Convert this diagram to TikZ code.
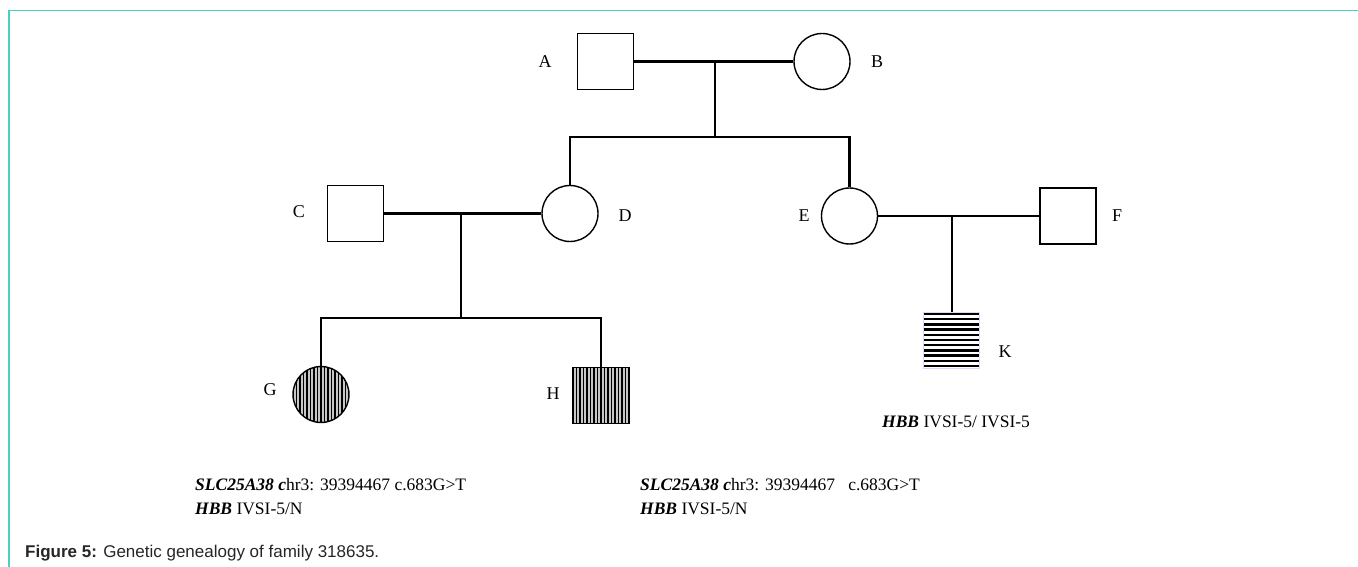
\documentclass[tikz,border=0pt]{standalone}
\usepackage{fontspec}
\setmainfont{Liberation Serif}
\newfontfamily\capfont{Liberation Sans}
\definecolor{framecol}{RGB}{72,209,192}
\tikzset{
  male/.style={draw, rectangle, line width=1.4pt, minimum size=56pt, inner sep=0pt},
  female/.style={draw, circle, line width=1.4pt, minimum size=56pt, inner sep=0pt},
  link/.style={line width=2.6pt},
  tag/.style={font=\fontsize{18}{21}\selectfont},
  gtext/.style={anchor=base west, inner sep=0pt, font=\fontsize{17.5}{21}\selectfont},
  vhatch/.style={fill=black!22, path picture={
      \foreach \i in {-28,-24.5,...,28}
        \draw[black, line width=1.3pt] ([xshift=\i]path picture bounding box.north) -- ([xshift=\i]path picture bounding box.south);}},
  hhatch/.style={draw=blue!15, line width=0.5pt, path picture={
      \foreach \i in {-26,-20.8,...,27}
        \draw[black, line width=2.4pt] ([yshift=\i]path picture bounding box.west) -- ([yshift=\i]path picture bounding box.east);}}
}
\begin{document}
\begin{tikzpicture}[x=1pt, y=-1pt]
  \useasboundingbox (0,0) rectangle (1358,567);
  \draw[framecol, line width=1.6pt] (9,567) -- (9,10.5) -- (1358,10.5);

  % generation I
  \node[male] (A) at (605.5,61.5) {};
  \node[female] (B) at (822,61.5) {};
  \node[tag] (lA) at (545,62) {A};
  \node[tag] (lB) at (877,62) {B};

  % generation II
  \node[male] (C) at (355.5,213.5) {};
  \node[female] (D) at (570,213.5) {};
  \node[female] (E) at (849.5,216) {};
  \node[male] (F) at (1068,216) {};
  \node[tag] (lC) at (299,212) {C};
  \node[tag] (lD) at (625,216) {D};
  \node[tag] (lE) at (804,216) {E};
  \node[tag] (lF) at (1117,216) {F};

  % generation III
  \node[female, vhatch] (G) at (321,394.5) {};
  \node[male, vhatch] (H) at (601,395.5) {};
  \node[male, draw=none, hhatch] (K) at (951,340) {};
  \node[tag] (lG) at (270,390) {G};
  \node[tag] (lH) at (553,394) {H};
  \node[tag] (lK) at (1005,352) {K};

  % marriages and sibships
  \coordinate (ab) at (715,61.5);
  \coordinate (sibD) at (D.north |- 0,137);
  \coordinate (sibE) at (E.north |- 0,137);
  \draw[link] (A.east) -- (B.west);
  \draw[link] (ab) -- (715,137);
  \draw[link] (D.north) -- (sibD) -- (sibE) -- (E.north);

  \coordinate (cd) at (461,213.5);
  \coordinate (sibG) at (G.north |- 0,318);
  \coordinate (sibH) at (H.north |- 0,318);
  \draw[link] (C.east) -- (D.west);
  \draw[link] (cd) -- (461,318);
  \draw[link] (G.north) -- (sibG) -- (sibH) -- (H.north);

  \coordinate (ef) at (952,216);
  \draw[link] (E.east) -- (F.west);
  \draw[link] (ef) -- (ef |- K.north);

  % genotypes
  \node[gtext] (gK) at (882,427) {\textbf{\textit{HBB}} IVSI-5/ IVSI-5};
  \node[gtext] (gG1) at (195,490) {\textbf{\textit{SLC25A38 c}}hr3: 39394467 c.683G>T};
  \node[gtext] (gG2) at (195,514) {\textbf{\textit{HBB}} IVSI-5/N};
  \node[gtext] (gH1) at (640,490) {\textbf{\textit{SLC25A38 c}}hr3: 39394467\ \ \ c.683G>T};
  \node[gtext] (gH2) at (640,514) {\textbf{\textit{HBB}} IVSI-5/N};

  \node[anchor=base west, inner sep=0pt, text=black!85, font=\capfont\fontsize{17}{20}\selectfont] (cap) at (25,557) {\textbf{Figure 5:} Genetic genealogy of family 318635.};
\end{tikzpicture}
\end{document}
